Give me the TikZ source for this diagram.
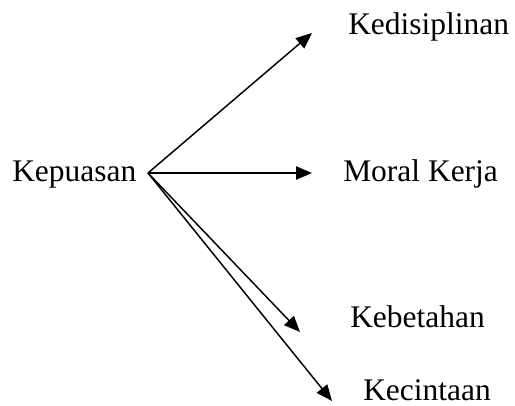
\documentclass[tikz,border=0pt]{standalone}
\usepackage{fontspec}
\setmainfont{Liberation Serif}
\usetikzlibrary{arrows.meta}
\begin{document}
\begin{tikzpicture}[x=0.75pt,y=-0.75pt,
  lbl/.style={anchor=base west,inner sep=0pt,font=\fontsize{23.6}{28}\selectfont},
  arr/.style={line width=1.1pt,-{Triangle[length=12pt,width=10pt]}}]
\useasboundingbox (0,0) rectangle (515,406);
\node[lbl] (kep) at (12,182) {Kepuasan};
\node[lbl] (ked) at (348,35) {Kedisiplinan};
\node[lbl] (mor) at (343,182) {Moral Kerja};
\node[lbl] (keb) at (350,328) {Kebetahan};
\node[lbl] (kec) at (363,401) {Kecintaan};
\coordinate (o) at (148,173);
\coordinate (tked) at (312,33);
\coordinate (tmor) at (312,173);
\coordinate (tkeb) at (300,332);
\coordinate (tkec) at (332,401);
\draw[arr] (o) -- (tked);
\draw[arr] (o) -- (tmor);
\draw[arr] (o) -- (tkeb);
\draw[arr] (o) -- (tkec);
\end{tikzpicture}
\end{document}
